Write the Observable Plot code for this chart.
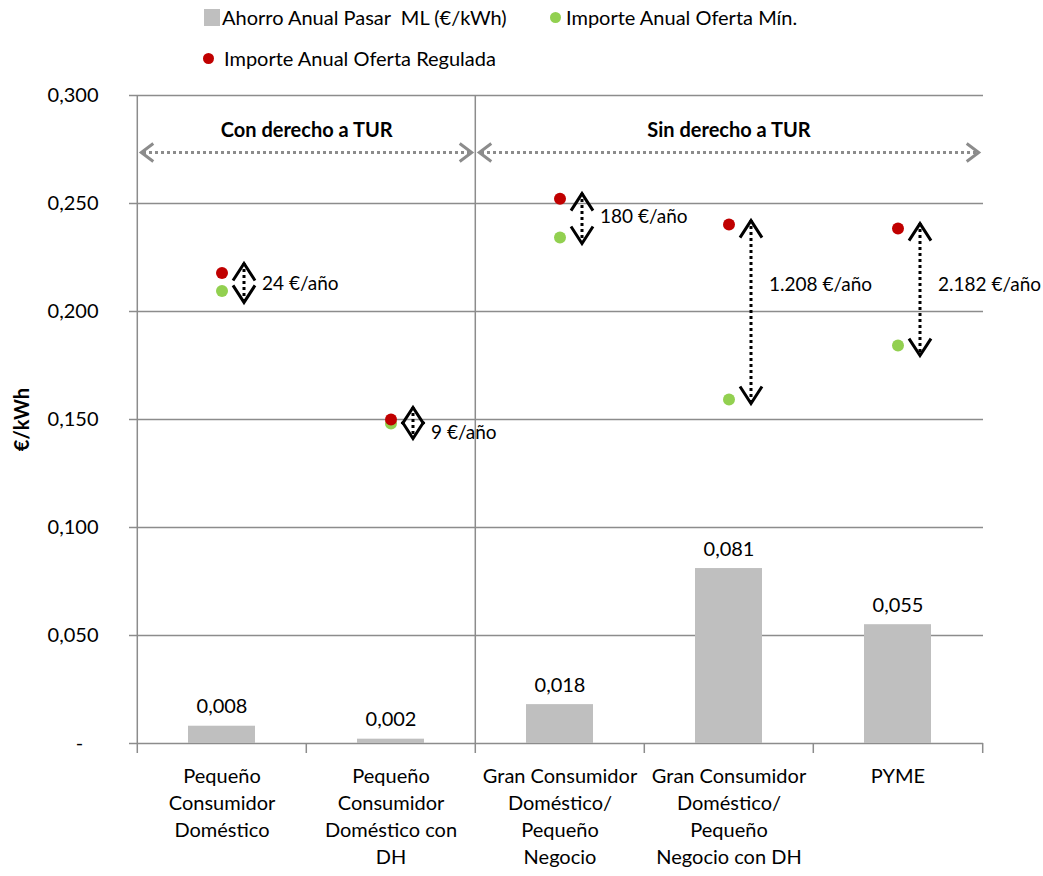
<!DOCTYPE html>
<html><head><meta charset="utf-8">
<script src="https://cdn.jsdelivr.net/npm/d3@7"></script>
<script src="https://cdn.jsdelivr.net/npm/@observablehq/plot@0.6"></script>
<style>
body{margin:0;background:#fff;font-family:Lato, sans-serif;}
#wrap{position:relative;width:1043px;height:876px;overflow:hidden;}
.leg{position:absolute;font-size:20px;color:#000;white-space:pre;line-height:20px;}
.sq{position:absolute;width:16px;height:17px;background:#BFBFBF;}
.dt{position:absolute;width:11px;height:11px;border-radius:50%;}
</style></head><body>
<div id="wrap">
  <div class="sq" style="left:204px;top:9px"></div>
  <div class="leg" style="left:222px;top:7px">Ahorro Anual Pasar  ML (€/kWh)</div>
  <div class="dt" style="left:550px;top:12px;background:#92D050"></div>
  <div class="leg" style="left:566px;top:7px">Importe Anual Oferta Mín.</div>
  <div class="dt" style="left:203px;top:53px;background:#C00000"></div>
  <div class="leg" style="left:224px;top:48px">Importe Anual Oferta Regulada</div>
  <div id="chart" style="position:absolute;left:0;top:75px"></div>
</div>
<script>
const categories = ["PCD", "PCD-DH", "GCD", "GCD-DH", "PYME"];
const tickLabels = [
  "Pequeño\nConsumidor\nDoméstico",
  "Pequeño\nConsumidor\nDoméstico con\nDH",
  "Gran Consumidor\nDoméstico/\nPequeño\nNegocio",
  "Gran Consumidor\nDoméstico/\nPequeño\nNegocio con DH",
  "PYME"
];
const savings = [0.008, 0.002, 0.018, 0.081, 0.055];
const regulated = [0.2178, 0.1500, 0.2522, 0.2403, 0.2384];
const minOffer = [0.2095, 0.1481, 0.2343, 0.1593, 0.1843];
const arrowTop = [0.2222, 0.1556, 0.2546, 0.2421, 0.2407];
const arrowBottom = [0.2042, 0.1412, 0.2315, 0.1574, 0.1796];
const annualDiff = ["24 €/año", "9 €/año", "180 €/año", "1.208 €/año", "2.182 €/año"];
const diffLabelY = [0.2130, 0.1440, 0.2440, 0.2125, 0.2125];
const yTicks = [0, 0.05, 0.10, 0.15, 0.20, 0.25, 0.30];
const groupNames = ["Con derecho a TUR", "Sin derecho a TUR"];
const groupFrom = [categories[0], categories[2]];
const groupTo = [categories[1], categories[4]];
const groupArrowY = 0.2736;
const groupLabelY = 0.2838;

const rows = categories.map((c, i) => ({
  cat: c, savings: savings[i], reg: regulated[i], min: minOffer[i],
  top: arrowTop[i], bottom: arrowBottom[i], diff: annualDiff[i], ly: diffLabelY[i]
}));
const groups = groupNames.map((g, i) => ({label: g, from: groupFrom[i], to: groupTo[i]}));

const W = 1043, H = 801;
const mL = 136, mR = 60;
const bw = (W - mL - mR) / categories.length;
const grid = "#8c8c8c";
const comma = d => d3.format(".3f")(d).replace(".", ",");
const fmtY = d => d === 0 ? "-\u00a0\u00a0\u00a0" : comma(d);

const chevronUp = {draw(c) { c.moveTo(-11, 17); c.lineTo(0, 0); c.lineTo(11, 17); }};
const chevronDown = {draw(c) { c.moveTo(-11, -17); c.lineTo(0, 0); c.lineTo(11, -17); }};
const chevronLeft = {draw(c) { c.moveTo(16, -9); c.lineTo(4, 0); c.lineTo(16, 9); }};
const chevronRight = {draw(c) { c.moveTo(-16, -9); c.lineTo(-4, 0); c.lineTo(-16, 9); }};

const plot = Plot.plot({
  width: W, height: H,
  marginLeft: mL, marginRight: mR, marginTop: 20, marginBottom: 133,
  style: {fontFamily: "Lato, sans-serif", fontSize: "20px", background: "white", color: "black", overflow: "visible"},
  x: {type: "band", domain: categories, padding: 0},
  y: {domain: [0, 0.3]},
  marks: [
    Plot.ruleY(yTicks, {stroke: grid, strokeWidth: 1.5}),
    Plot.axisY({ticks: yTicks, tickFormat: fmtY, tickSize: 7, tickPadding: 31, stroke: grid, strokeWidth: 1.5, fontSize: 20, label: null}),
    Plot.axisX({tickFormat: d => tickLabels[categories.indexOf(d)], tickSize: 0, tickPadding: 20, fontSize: 20, lineHeight: 1.36, label: null}),
    Plot.ruleX([categories[0], categories[2]], {x: d => d, dx: -bw / 2, y1: 0.3, y2: 0, insetBottom: -10, stroke: grid, strokeWidth: 1.5}),
    Plot.ruleX([categories[1], categories[3], categories[4]], {x: d => d, dx: -bw / 2, y1: 0, y2: 0, insetBottom: -10, stroke: grid, strokeWidth: 1.5}),
    Plot.ruleX([categories[4]], {x: d => d, dx: bw / 2, y1: 0, y2: 0, insetBottom: -10, stroke: grid, strokeWidth: 1.5}),
    Plot.barY(rows, {x: "cat", y: "savings", fill: "#BFBFBF", insetLeft: 51, insetRight: 51}),
    Plot.text(rows, {x: "cat", y: "savings", text: d => comma(d.savings), lineAnchor: "bottom", dy: -13, fontSize: 20}),
    // group arrows
    Plot.ruleY(groups, {x1: "from", x2: "to", y: () => groupArrowY, stroke: grid, strokeWidth: 3, strokeDasharray: "3,3", insetLeft: 6, insetRight: 6}),
    Plot.dot(groups, {x: "from", y: () => groupArrowY, dx: -bw / 2, symbol: chevronLeft, fill: "none", stroke: grid, strokeWidth: 3}),
    Plot.dot(groups, {x: "to", y: () => groupArrowY, dx: bw / 2, symbol: chevronRight, fill: "none", stroke: grid, strokeWidth: 3}),
    Plot.text([groups[0]], {x: "from", y: () => groupLabelY, dx: bw / 2, text: "label", fontWeight: "bold", fontSize: 20}),
    Plot.text([groups[1]], {x: () => categories[3], y: () => groupLabelY, text: "label", fontWeight: "bold", fontSize: 20}),
    // difference arrows
    Plot.ruleX(rows, {x: "cat", y1: "top", y2: "bottom", dx: 22, stroke: "black", strokeWidth: 3, strokeDasharray: "3,3"}),
    Plot.dot(rows, {x: "cat", y: "top", dx: 22, symbol: chevronUp, fill: "none", stroke: "black", strokeWidth: 3}),
    Plot.dot(rows, {x: "cat", y: "bottom", dx: 22, symbol: chevronDown, fill: "none", stroke: "black", strokeWidth: 3}),
    Plot.text(rows, {x: "cat", y: "ly", text: "diff", dx: 40, textAnchor: "start", fontSize: 19}),
    // points
    Plot.dot(rows, {x: "cat", y: "min", r: 6, fill: "#92D050"}),
    Plot.dot(rows, {x: "cat", y: "reg", r: 6, fill: "#C00000"}),
    Plot.text(["€/kWh"], {frameAnchor: "left", dx: -114, rotate: -90, textAnchor: "middle", text: d => d, fontWeight: "bold", fontSize: 20})
  ]
});
document.getElementById("chart").appendChild(plot);
</script>
</body></html>
